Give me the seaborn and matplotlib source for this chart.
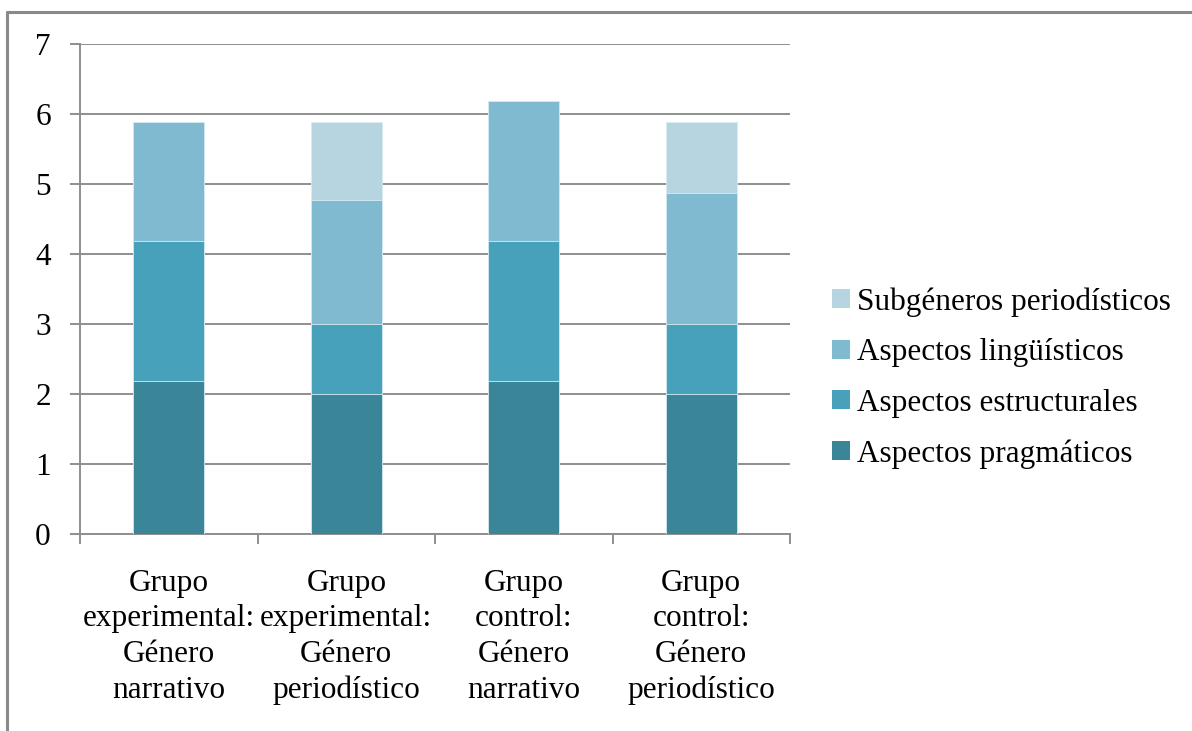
import matplotlib
matplotlib.use("Agg")
import matplotlib.pyplot as plt
from matplotlib.lines import Line2D
from matplotlib.patches import Patch
import numpy as np
import pandas as pd
import seaborn as sns

# Categories (groups) and the four stacked components
groups = [
    "Grupo\nexperimental:\nGénero\nnarrativo",
    "Grupo\nexperimental:\nGénero\nperiodístico",
    "Grupo\ncontrol:\nGénero\nnarrativo",
    "Grupo\ncontrol:\nGénero\nperiodístico",
]
pragmaticos = [2.19, 2.00, 2.19, 2.00]
estructurales = [2.00, 1.00, 2.00, 1.00]
linguisticos = [1.69, 1.77, 2.00, 1.87]
subgeneros = [0.00, 1.12, 0.00, 1.01]

series_names = [
    "Aspectos pragmáticos",
    "Aspectos estructurales",
    "Aspectos lingüísticos",
    "Subgéneros periodísticos",
]
series_values = [pragmaticos, estructurales, linguisticos, subgeneros]
series_colors = ["#3B8599", "#48A1BA", "#7FBAD0", "#B7D5E0"]

sns.set_theme(style="white")
plt.rcParams["font.family"] = ["Liberation Serif", "DejaVu Serif"]
plt.rcParams["text.color"] = "black"
plt.rcParams["xtick.color"] = "black"
plt.rcParams["ytick.color"] = "black"

FS = 22.5

fig = plt.figure(figsize=(11.92, 7.31), dpi=100)
ax = fig.add_axes([80 / 1192, 1 - 534 / 731, 710 / 1192, 490 / 731])

# Build cumulative totals so that the stack can be drawn tallest-first
df = pd.DataFrame({"grupo": groups})
cum = np.zeros(len(groups))
for name, vals in zip(series_names, series_values):
    cum = cum + np.array(vals)
    df[name] = cum.copy()

for name, color in reversed(list(zip(series_names, series_colors))):
    sns.barplot(data=df, x="grupo", y=name, color=color, width=0.4,
                saturation=1, edgecolor="#d8ecf2", linewidth=0.6,
                ax=ax, zorder=3)

ax.set_xlim(-0.5, 3.5)
ax.set_ylim(0, 7)
ax.set_yticks(range(0, 8))
ax.set_yticklabels([str(v) for v in range(0, 8)], fontsize=FS)
ax.set_xlabel("")
ax.set_ylabel("")

grid_color = "#8e8e8e"
ax.yaxis.grid(True, color=grid_color, linewidth=1.4, zorder=0)
ax.set_axisbelow(True)
for s in ["top", "right"]:
    ax.spines[s].set_visible(False)
for s in ["left", "bottom"]:
    ax.spines[s].set_color(grid_color)
    ax.spines[s].set_linewidth(1.4)

ax.tick_params(axis="y", which="major", length=7, width=1.4, color=grid_color,
               labelcolor="black", pad=14, left=True)
ax.set_xticks(range(len(groups)))
ax.set_xticklabels(groups, fontsize=FS, linespacing=1.3, va="top")
ax.tick_params(axis="x", which="major", length=0, pad=25, labelcolor="black")
ax.set_xticks(np.arange(-0.5, 3.6, 1.0), minor=True)
ax.tick_params(axis="x", which="minor", length=7, width=1.4, color=grid_color,
               bottom=True)

handles = [Patch(facecolor=c, edgecolor="none", label=n)
           for n, c in zip(series_names, series_colors)][::-1]
fig.legend(handles=handles, loc="center left",
           bbox_to_anchor=(820 / 1192, 1 - 378 / 731), frameon=False,
           fontsize=FS, handlelength=0.55, handleheight=0.55,
           handletextpad=0.22, labelspacing=0.69, borderaxespad=0,
           labelcolor="black")

# Outer frame of the figure
frame_kw = dict(color="#8a8a8a", linewidth=2.2, transform=fig.transFigure)
fig.add_artist(Line2D([7 / 1192, 7 / 1192], [0, 1 - 12 / 731], **frame_kw))
fig.add_artist(Line2D([7 / 1192, 1], [1 - 12 / 731, 1 - 12 / 731], **frame_kw))

fig.savefig("out.png", dpi=100)
